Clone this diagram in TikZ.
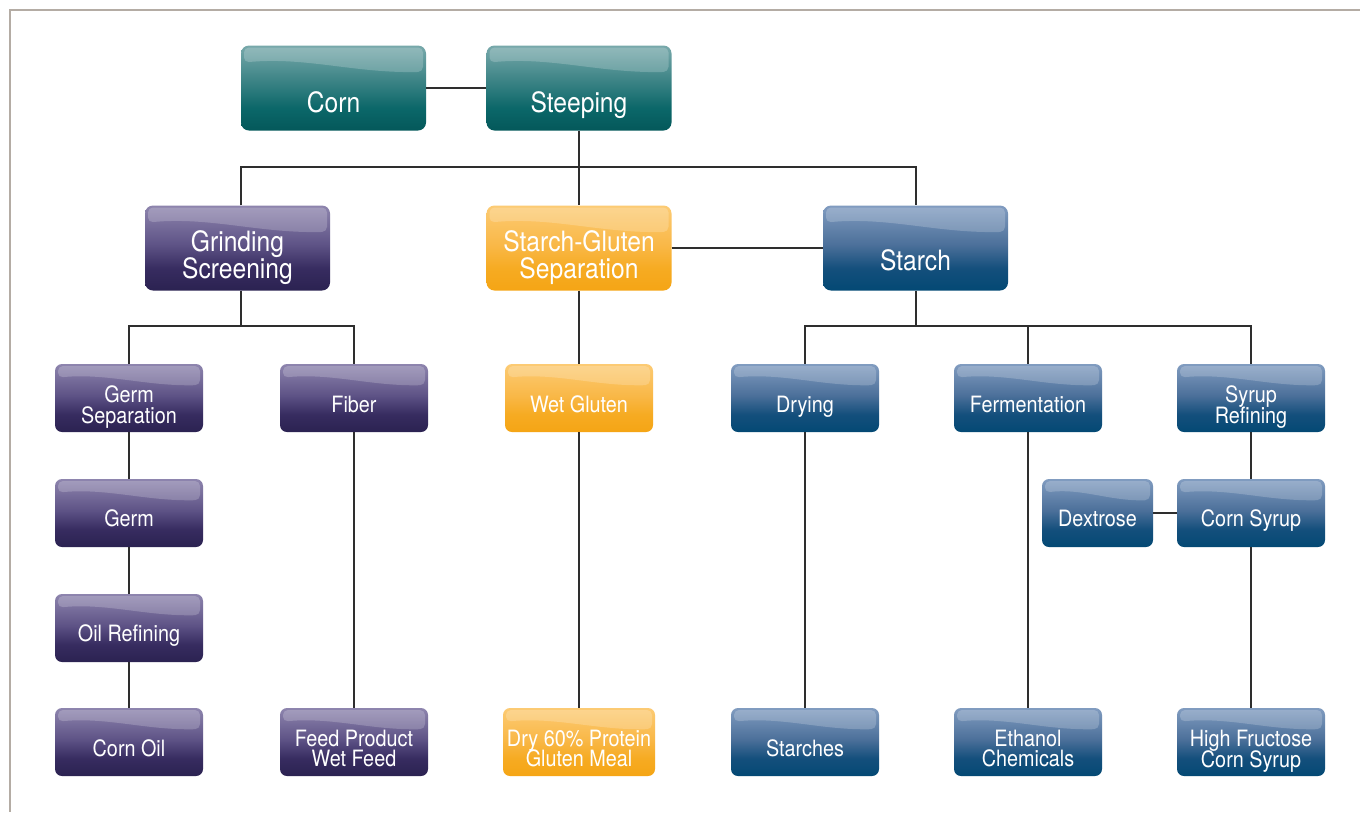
\documentclass[tikz,border=0pt]{standalone}
\usepackage{fontspec}
\newfontfamily\boxfont[FakeStretch=0.88]{TeX Gyre Heros}
\usetikzlibrary{calc}

% colour ramps for the four process families
\definecolor{tealT}{HTML}{78A9AB}\definecolor{tealM}{HTML}{357F81}
\definecolor{tealL}{HTML}{0B6769}\definecolor{tealB}{HTML}{04585A}
\definecolor{purT}{HTML}{8E85AE}\definecolor{purM}{HTML}{5E5386}
\definecolor{purL}{HTML}{372C60}\definecolor{purB}{HTML}{2B2251}
\definecolor{oraT}{HTML}{FCCB74}\definecolor{oraM}{HTML}{F9B848}
\definecolor{oraL}{HTML}{F6AB22}\definecolor{oraB}{HTML}{F5A515}
\definecolor{bluT}{HTML}{819CC0}\definecolor{bluM}{HTML}{4C709A}
\definecolor{bluL}{HTML}{144F7C}\definecolor{bluB}{HTML}{034974}
\definecolor{wire}{HTML}{2E2E2E}
\definecolor{frame}{HTML}{B4ACA4}

\pgfdeclareverticalshading{tealsh}{100bp}{color(0bp)=(tealB); color(25bp)=(tealB); color(38bp)=(tealL); color(52bp)=(tealM); color(75bp)=(tealT); color(100bp)=(tealT)}
\pgfdeclareverticalshading{pursh}{100bp}{color(0bp)=(purB); color(25bp)=(purB); color(38bp)=(purL); color(52bp)=(purM); color(75bp)=(purT); color(100bp)=(purT)}
\pgfdeclareverticalshading{orash}{100bp}{color(0bp)=(oraB); color(25bp)=(oraB); color(38bp)=(oraL); color(52bp)=(oraM); color(75bp)=(oraT); color(100bp)=(oraT)}
\pgfdeclareverticalshading{blush}{100bp}{color(0bp)=(bluB); color(25bp)=(bluB); color(38bp)=(bluL); color(52bp)=(bluM); color(75bp)=(bluT); color(100bp)=(bluT)}

\tikzset{
  gloss/.style={path picture={
    \fill[white,opacity=0.2,rounded corners=5pt]
      let \p1=(path picture bounding box.north west),
          \p2=(path picture bounding box.south east),
          \n1={\x2-\x1}, \n2={\y1-\y2} in
      (\x1+3pt,\y1-2pt) -- (\x2-3pt,\y1-2pt) -- (\x2-3pt,\y1-0.31*\n2)
      .. controls (\x1+0.62*\n1,\y1-0.33*\n2) and (\x1+0.35*\n1,\y1-0.13*\n2) ..
      (\x1+3pt,\y1-0.2*\n2) -- cycle;}},
  procbox/.style={shape=rectangle, draw=none, shade, shading=#1, gloss, inner sep=0pt},
  bigbox/.style={procbox=#1, minimum width=185pt, minimum height=85pt, rounded corners=8pt},
  smallbox/.style={procbox=#1, minimum width=148pt, minimum height=68pt, rounded corners=7pt},
  bigtxt/.style={text=white, inner sep=0pt, align=center,
    font={\boxfont\fontsize{28}{27}\selectfont\lineskiplimit=-20pt}},
  smalltxt/.style={text=white, inner sep=0pt, align=center,
    font={\boxfont\fontsize{22.5}{20.5}\selectfont\lineskiplimit=-20pt}},
  bigone/.style={bigtxt, text height=20pt, text depth=0pt},
  smallone/.style={smalltxt, text height=16pt, text depth=0pt},
  link/.style={draw=wire, line width=1.5pt},
}

\begin{document}
\begin{tikzpicture}[x=1pt,y=-1pt]
\useasboundingbox (0,0) rectangle (1360,812);
\fill[white] (0,0) rectangle (1360,812);
\draw[frame, line width=2pt] (1360,9.5) -- (9.5,9.5) -- (9.5,812);

% top level
\node[bigbox=tealsh] (corn)  at (333.5,88) {};
\node[bigbox=tealsh] (steep) at (579,88) {};
\node[bigbox=pursh]  (grind) at (237.5,248) {};
\node[bigbox=orash]  (sgsep) at (579,248) {};
\node[bigbox=blush]  (starch) at (915.5,248) {};

\node[bigone] (tcorn)  at (333.5,102.5) {Corn};
\node[bigone] (tsteep) at (579,102.5) {Steeping};
\node[bigtxt] (tgrind) at (237.5,258) {Grinding\\Screening};
\node[bigtxt] (tsgsep) at (579,258) {Starch-Gluten\\Separation};
\node[bigone] (tstarch) at (915.5,260) {Starch};

% second level
\node[smallbox=pursh] (germsep) at (129,398) {};
\node[smallbox=pursh] (fiber)   at (354,398) {};
\node[smallbox=orash] (wetgl)   at (579,398) {};
\node[smallbox=blush] (drying)  at (805,398) {};
\node[smallbox=blush] (ferm)    at (1028,398) {};
\node[smallbox=blush] (syrref)  at (1251,398) {};

\node[smalltxt] (tgermsep) at (129,407) {Germ\\Separation};
\node[smallone] (tfiber)   at (354,404) {Fiber};
\node[smallone] (twetgl)   at (579,404) {Wet Gluten};
\node[smallone] (tdrying)  at (805,404) {Drying};
\node[smallone] (tferm)    at (1028,404) {Fermentation};
\node[smalltxt] (tsyrref)  at (1251,407) {Syrup\\Refining};

% third and fourth level
\node[smallbox=pursh] (germ) at (129,513) {};
\node[smallbox=blush, minimum width=111pt] (dextrose) at (1097.5,513) {};
\node[smallbox=blush] (cornsyr) at (1251,513) {};
\node[smallbox=pursh] (oilref) at (129,628) {};

\node[smallone] (tgerm)     at (129,518) {Germ};
\node[smallone] (tdextrose) at (1097.5,518) {Dextrose};
\node[smallone] (tcornsyr)  at (1251,518) {Corn Syrup};
\node[smallone] (toilref)   at (129,633) {Oil Refining};

% end products
\node[smallbox=pursh] (cornoil)  at (129,742) {};
\node[smallbox=pursh] (feed)     at (354,742) {};
\node[smallbox=orash, minimum width=152pt] (drygl) at (579,742) {};
\node[smallbox=blush] (starches) at (805,742) {};
\node[smallbox=blush] (ethanol)  at (1028,742) {};
\node[smallbox=blush] (hfcs)     at (1251,742) {};

\node[smallone] (tcornoil)  at (129,748) {Corn Oil};
\node[smalltxt] (tfeed)     at (354,748.5) {Feed Product\\Wet Feed};
\node[smalltxt] (tdrygl)    at (579,748.5) {Dry 60\% Protein\\Gluten Meal};
\node[smallone] (tstarches) at (805,748) {Starches};
\node[smalltxt] (tethanol)  at (1028,748.5) {Ethanol\\Chemicals};
\node[smalltxt] (thfcs)     at (1251,751) {High Fructose\\Corn Syrup};

% connectors
\coordinate (gtop) at (241,167);
\coordinate (stop) at (916,167);
\coordinate (j2) at (241,326);
\coordinate (j3) at (916,326);

\draw[link] (corn.east) -- (steep.west);
\draw[link] (steep.south) -- (sgsep.north);
\draw[link] (gtop |- grind.north) -- (gtop) -- (stop) -- (stop |- starch.north);
\draw[link] (sgsep.east) -- (starch.west);

\draw[link] (j2 |- grind.south) -- (j2);
\draw[link] (germsep.north) |- (j2) -| (fiber.north);
\draw[link] (sgsep.south) -- (wetgl.north);
\draw[link] (j3 |- starch.south) -- (j3);
\draw[link] (drying.north) |- (j3) -| (syrref.north);
\draw[link] (ferm.north) -- (ferm.north |- j3);

\draw[link] (germsep.south) -- (germ.north);
\draw[link] (germ.south) -- (oilref.north);
\draw[link] (oilref.south) -- (cornoil.north);
\draw[link] (fiber.south) -- (feed.north);
\draw[link] (wetgl.south) -- (drygl.north);
\draw[link] (drying.south) -- (starches.north);
\draw[link] (ferm.south) -- (ethanol.north);
\draw[link] (syrref.south) -- (cornsyr.north);
\draw[link] (dextrose.east) -- (cornsyr.west);
\draw[link] (cornsyr.south) -- (hfcs.north);
\end{tikzpicture}
\end{document}
